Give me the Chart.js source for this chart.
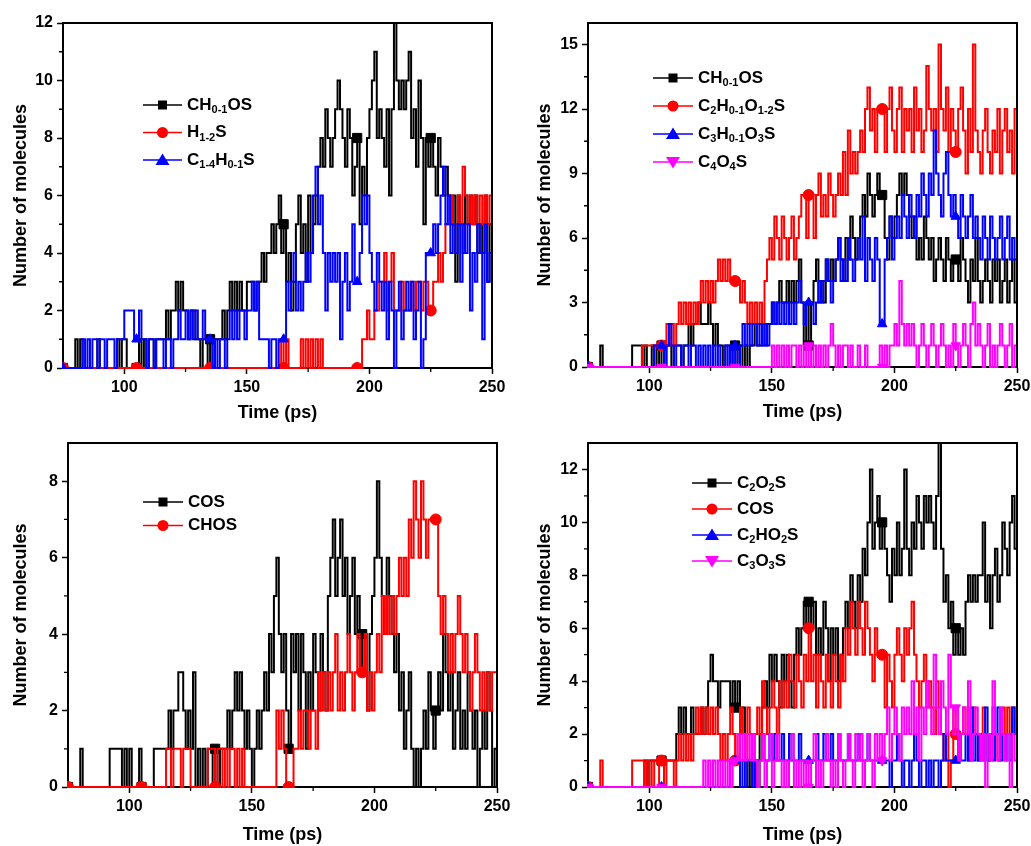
<!DOCTYPE html>
<html>
<head>
<meta charset="utf-8">
<script src="https://cdn.jsdelivr.net/npm/chart.js@4.4.1/dist/chart.umd.min.js"></script>
<style>
  html, body { margin: 0; padding: 0; background: #ffffff; }
  body { width: 1031px; height: 846px; position: relative; overflow: hidden; }
  canvas { position: absolute; }
</style>
</head>
<body>
<canvas id="c1"></canvas>
<canvas id="c2"></canvas>
<canvas id="c3"></canvas>
<canvas id="c4"></canvas>
<script>
// Sampling times (ps), one value per picosecond
const timeStart = 75, timeEnd = 250;
const times = Array.from({ length: timeEnd - timeStart + 1 }, (_, i) => timeStart + i);
const markerTimes = [75, 105, 135, 165, 195, 225];
const xTicks = [100, 150, 200, 250];
const xMinorTicks = [125, 175, 225];

// Panel (a) tick values
const p1YTicks = [0, 2, 4, 6, 8, 10, 12];
const p1YMinor = [1, 3, 5, 7, 9, 11];
// Panel (b)
const p2YTicks = [0, 3, 6, 9, 12, 15];
const p2YMinor = [1.5, 4.5, 7.5, 10.5, 13.5];
// Panel (c)
const p3YTicks = [0, 2, 4, 6, 8];
const p3YMinor = [1, 3, 5, 7];
// Panel (d)
const p4YTicks = [0, 2, 4, 6, 8, 10, 12];
const p4YMinor = [1, 3, 5, 7, 9, 11];

// ---- Panel (a) series ----
const p1CH01OS = [
  0,0,0,0,0,1,0,1,0,0,  0,0,0,0,1,0,0,0,0,0,  0,0,1,0,1,1,0,0,0,0,
  0,1,0,1,0,1,1,0,1,1,  1,1,2,1,2,2,3,2,3,2,  2,1,2,2,1,1,0,1,1,0,
  1,0,1,1,1,2,1,2,3,2,  3,2,3,2,2,3,3,3,2,3,  3,4,3,4,4,5,4,5,6,4,
  5,3,4,2,3,5,6,4,5,3,  6,4,5,6,7,8,7,9,8,7,  8,9,10,9,8,7,9,8,6,7,
  8,5,7,6,8,9,10,11,8,9,  8,7,9,6,9,12,10,9,10,9,  10,11,8,9,7,10,8,5,8,7,
  8,7,6,8,7,6,7,6,5,6,  3,6,5,4,6,5,6,5,6,4,  5,4,6,3,5,4
];
const p1H12S = [
  0,0,0,0,0,0,0,0,0,0,  0,0,0,0,0,0,0,0,0,0,  0,0,0,0,0,0,0,0,0,0,
  0,0,0,0,0,0,0,0,0,0,  0,0,0,0,0,0,0,0,0,0,  0,0,0,0,0,0,0,0,0,0,
  0,0,0,0,0,0,0,0,0,0,  0,0,0,0,0,0,0,0,0,0,  0,0,0,0,0,0,0,0,0,1,
  0,1,0,0,0,0,0,1,0,1,  0,1,0,1,0,1,0,0,0,0,  0,0,0,0,0,0,0,0,0,0,
  0,0,1,1,2,1,1,2,2,3,  3,4,2,3,4,2,2,2,3,2,  2,2,3,2,3,3,2,3,3,2,
  2,3,3,4,3,4,5,5,6,5,  5,6,5,7,6,5,6,5,6,5,  6,5,6,5,6,6
];
const p1C14H01S = [
  0,0,0,0,0,0,0,0,1,0,  1,0,1,1,0,1,1,0,1,1,  1,0,1,1,1,2,2,2,2,1,
  1,2,1,1,0,1,1,0,1,1,  1,0,1,1,0,1,1,2,1,1,  2,1,2,1,2,1,1,2,1,1,
  1,0,1,0,1,1,0,1,2,1,  2,1,2,2,1,2,2,3,2,3,  1,1,1,1,0,1,1,0,1,1,
  1,3,2,3,4,2,3,2,3,4,  3,4,6,7,5,6,4,2,4,3,  4,3,4,1,3,4,2,3,5,3,
  3,4,6,5,6,4,3,2,4,3,  2,3,1,3,2,0,2,3,1,2,  3,2,3,1,2,3,0,1,4,4,
  4,5,4,5,6,7,5,6,4,5,  4,5,3,5,4,5,2,4,3,5,  4,1,5,3,4,3
];

// ---- Panel (b) series ----
const p2CH01OS = [
  0,0,0,0,0,1,0,0,0,0,  0,0,0,0,0,0,0,0,1,1,  1,1,0,1,0,0,1,0,1,0,
  1,0,1,1,0,1,1,1,0,1,  1,2,1,2,2,3,2,2,2,3,  2,1,2,1,1,0,1,1,0,1,
  1,0,1,0,1,0,1,1,2,1,  1,2,1,2,2,3,2,3,4,3,  3,4,3,4,3,4,5,3,1,3,
  1,3,4,5,3,4,3,5,4,5,  4,5,6,5,4,6,5,7,6,5,  6,7,8,7,9,8,7,8,9,8,
  8,6,5,7,6,7,8,9,8,9,  8,7,6,7,5,6,5,7,6,5,  6,4,5,6,5,4,6,5,4,5,
  5,4,6,5,4,3,5,4,6,4,  3,4,5,4,3,5,4,5,3,4,  5,3,4,5,3,2
];
const p2C2H01O12S = [
  0,0,0,0,0,0,0,0,0,0,  0,0,0,0,0,0,0,0,0,0,  0,0,1,1,1,1,1,1,1,1,
  1,1,2,1,2,1,2,3,2,3,  2,3,2,3,2,3,4,3,4,3,  4,3,4,5,4,5,4,5,4,4,
  4,4,3,4,3,2,3,2,3,2,  3,2,4,5,6,5,7,6,5,7,  6,5,6,7,5,6,7,8,8,6,
  8,8,6,8,9,7,8,7,9,8,  7,8,9,8,10,8,11,9,10,9,  10,11,10,12,13,11,12,10,12,12,
  12,10,12,13,11,10,12,13,10,12,  11,12,10,13,11,12,10,11,14,12,  11,12,10,15,12,11,13,10,12,11,
  10,12,13,11,9,12,10,15,11,10,  9,11,12,10,9,11,10,12,9,11,  12,10,11,9,12,10
];
const p2C3H01O3S = [
  0,0,0,0,0,0,0,0,0,0,  0,0,0,0,0,0,0,0,0,0,  0,0,0,0,0,0,0,1,1,1,
  1,0,1,2,1,0,1,1,0,1,  1,0,1,1,0,1,0,1,0,1,  0,1,0,1,0,0,1,0,1,0,
  1,0,1,2,1,2,1,2,2,1,  2,1,2,1,2,3,2,3,2,3,  2,3,2,3,2,3,4,3,2,3,
  3,3,2,3,4,3,4,5,4,3,  4,5,6,4,5,4,6,5,4,5,  6,5,7,4,6,5,4,6,5,2,
  2,5,6,7,5,6,7,6,8,7,  6,8,7,6,8,7,9,8,7,9,  8,11,9,8,7,9,10,8,7,8,
  7,6,8,7,6,7,8,6,7,6,  5,7,6,5,7,6,5,6,7,5,  6,7,5,6,5,2
];
const p2C4O4S = [
  0,0,0,0,0,0,0,0,0,0,  0,0,0,0,0,0,0,0,0,0,  0,0,0,0,0,0,0,0,0,0,
  0,0,0,0,0,0,0,0,0,0,  0,0,0,0,0,0,0,0,0,0,  0,0,0,0,0,0,0,0,0,0,
  0,0,0,0,0,0,0,0,0,0,  0,0,0,0,0,1,0,1,0,1,  0,1,0,1,1,0,1,0,1,0,
  1,0,1,0,1,0,1,0,1,2,  1,0,1,0,1,1,0,1,0,0,  1,0,0,1,0,0,0,0,0,1,
  0,1,0,1,1,2,1,4,2,1,  2,1,2,1,0,1,2,1,0,1,  2,1,0,1,2,1,0,1,0,2,
  1,0,1,2,1,0,2,3,1,2,  1,0,1,2,0,1,0,1,2,1,  0,1,2,0,1,1
];

// ---- Panel (c) series ----
const p3COS = [
  0,0,0,0,0,1,0,0,0,0,  0,0,0,0,0,0,0,1,1,1,  1,1,0,1,0,1,0,0,0,1,
  0,0,0,0,0,1,1,1,1,1,  1,2,1,2,2,3,3,2,1,2,  1,3,0,1,0,1,0,1,1,0,
  1,0,1,1,1,2,1,2,3,2,  3,2,1,2,1,0,1,2,1,2,  3,2,4,3,5,6,4,3,4,2,
  1,4,3,4,2,4,3,1,3,2,  4,3,2,4,3,2,5,6,7,5,  6,7,5,6,4,5,6,4,5,3,
  4,3,2,4,5,6,8,6,5,4,  6,5,4,3,4,2,3,1,2,3,  1,0,1,0,1,2,1,3,2,1,
  2,3,2,4,3,2,3,1,2,3,  1,2,1,3,2,1,2,0,1,2,  1,3,2,0,1,2
];
const p3CHOS = [
  0,0,0,0,0,0,0,0,0,0,  0,0,0,0,0,0,0,0,0,0,  0,0,0,0,0,0,0,0,0,0,
  0,0,0,0,0,0,0,0,0,0,  1,1,0,1,1,1,0,1,1,1,  0,0,0,0,0,0,0,1,1,1,
  0,1,1,0,1,0,1,1,0,1,  0,1,0,0,0,0,0,0,0,0,  0,0,0,0,0,2,1,2,1,0,
  0,0,1,1,2,1,2,2,1,2,  2,1,3,2,3,2,3,2,3,4,  2,3,2,3,4,3,2,3,4,3,
  3,4,2,3,2,3,4,3,5,4,  5,4,5,4,5,6,5,6,5,7,  6,8,7,6,8,7,6,7,7,7,
  7,5,4,5,4,3,4,3,4,5,  4,3,4,3,2,3,4,3,2,3,  2,3,2,3,3,3
];

// ---- Panel (d) series ----
const p4C2O2S = [
  0,0,0,0,0,0,0,0,0,0,  0,0,0,0,0,0,0,0,0,0,  0,0,0,1,0,1,1,1,1,1,
  1,1,1,1,1,1,2,3,2,3,  2,2,3,2,2,2,3,2,3,4,  5,4,4,3,4,4,4,4,3,4,
  3,4,2,3,1,0,1,0,1,0,  2,3,4,3,5,4,5,4,3,5,  4,5,4,3,5,6,5,6,7,6,
  7,6,7,5,6,5,7,6,4,6,  5,6,4,5,6,7,6,8,7,6,  8,7,9,8,10,12,9,10,11,9,
  10,9,8,7,9,8,10,8,9,12,  9,8,10,9,11,10,9,11,10,11,  10,9,11,13,9,7,8,6,7,5,
  6,5,6,5,7,8,7,8,7,8,  8,10,7,8,6,8,9,7,8,10,  9,8,10,11,9,8
];
const p4COS = [
  0,0,0,0,0,1,0,0,0,0,  0,0,0,0,0,0,0,0,1,1,  1,1,1,0,1,0,1,0,0,1,
  1,0,1,1,1,0,1,2,1,2,  1,2,1,2,3,2,3,2,3,2,  3,2,3,2,1,2,1,2,3,2,
  1,2,3,2,1,3,2,1,2,3,  2,4,3,2,3,4,3,2,4,3,  4,3,5,4,3,5,4,3,5,4,
  6,4,5,3,5,4,3,5,4,3,  5,4,3,5,4,6,5,7,6,5,  7,6,5,7,6,5,4,6,5,5,
  5,3,5,4,3,5,6,5,4,6,  5,6,7,5,4,3,4,5,3,4,  3,2,4,3,2,1,2,0,1,3,
  2,1,2,3,2,1,2,3,2,1,  2,3,2,1,2,3,2,1,2,3,  2,3,2,3,2,2
];
const p4C2HO2S = [
  0,0,0,0,0,0,0,0,0,0,  0,0,0,0,0,0,0,0,0,0,  0,0,0,0,0,0,0,0,0,0,
  0,0,0,0,0,0,0,0,0,0,  0,0,0,0,0,0,0,0,0,0,  0,0,0,0,0,0,0,0,1,1,
  1,1,0,1,0,1,1,0,1,1,  1,2,1,1,2,1,2,1,1,2,  1,1,2,1,1,1,2,1,1,1,
  1,1,1,2,1,1,2,1,1,2,  1,1,2,1,1,1,2,1,1,1,  2,1,1,1,2,1,1,1,1,1,
  1,1,1,0,1,1,2,1,0,1,  1,0,1,2,1,0,1,1,0,1,  0,1,1,0,1,2,1,1,1,1,
  1,2,1,1,2,1,3,1,2,1,  2,1,3,1,2,1,2,3,1,2,  1,2,1,3,2,2
];
const p4C3O3S = [
  0,0,0,0,0,0,0,0,0,0,  0,0,0,0,0,0,0,0,0,0,  0,0,0,0,0,0,0,0,0,0,
  0,0,0,0,0,0,0,0,0,0,  0,0,0,0,0,0,0,1,0,1,  0,1,0,1,0,1,0,1,0,1,
  1,2,1,2,1,2,1,2,1,0,  1,2,0,1,2,0,1,2,1,0,  1,0,1,2,0,1,0,1,0,1,
  0,1,2,0,1,0,1,2,1,0,  1,0,2,1,0,1,2,1,0,2,  1,2,0,1,2,1,0,2,1,2,
  1,2,3,1,2,3,2,1,3,2,  3,2,4,2,3,1,3,2,4,3,  2,5,3,2,4,3,2,5,3,2,
  3,1,2,3,2,4,1,2,3,2,  1,2,0,2,1,4,2,1,3,2,  1,2,0,2,1,2
];

const FONT = "'Liberation Sans', Arial, Helvetica, sans-serif";
Chart.defaults.font.family = FONT;
Chart.defaults.color = '#000';

const BLACK = '#000000', RED = '#ff0000', BLUE = '#0000ff', MAGENTA = '#ff00ff';
const AXIS_W = 2;

const panels = [
  {
    id: 'c1', box: { left: 0, top: 0, w: 515, h: 432 }, area: { l: 63, t: 23, r: 492, b: 368 },
    yMax: 12, yTicks: p1YTicks, yMinor: p1YMinor, xTitleGap: 45, yTitleX: 21,
    legend: { x: 143, y: 105, dy: 27.5, len: 39 },
    series: [
      { label: 'CH_{0-1}OS', values: p1CH01OS, color: BLACK, marker: 'rect' },
      { label: 'H_{1-2}S', values: p1H12S, color: RED, marker: 'circle' },
      { label: 'C_{1-4}H_{0-1}S', values: p1C14H01S, color: BLUE, marker: 'triangle' }
    ]
  },
  {
    id: 'c2', box: { left: 515, top: 0, w: 540, h: 432 }, area: { l: 73, t: 23, r: 502, b: 367 },
    yMax: 16, yTicks: p2YTicks, yMinor: p2YMinor, xTitleGap: 45, yTitleX: 30,
    legend: { x: 138, y: 78, dy: 28, len: 40 },
    series: [
      { label: 'CH_{0-1}OS', values: p2CH01OS, color: BLACK, marker: 'rect' },
      { label: 'C_{2}H_{0-1}O_{1-2}S', values: p2C2H01O12S, color: RED, marker: 'circle' },
      { label: 'C_{3}H_{0-1}O_{3}S', values: p2C3H01O3S, color: BLUE, marker: 'triangle' },
      { label: 'C_{4}O_{4}S', values: p2C4O4S, color: MAGENTA, marker: 'triangleDown' }
    ]
  },
  {
    id: 'c3', box: { left: 0, top: 420, w: 515, h: 426 }, area: { l: 68, t: 23, r: 497, b: 367 },
    yMax: 9, yTicks: p3YTicks, yMinor: p3YMinor, xTitleGap: 48, yTitleX: 21,
    legend: { x: 143, y: 82, dy: 23.5, len: 40 },
    series: [
      { label: 'COS', values: p3COS, color: BLACK, marker: 'rect' },
      { label: 'CHOS', values: p3CHOS, color: RED, marker: 'circle' }
    ]
  },
  {
    id: 'c4', box: { left: 515, top: 420, w: 540, h: 426 }, area: { l: 73, t: 23, r: 502, b: 367 },
    yMax: 13, yTicks: p4YTicks, yMinor: p4YMinor, xTitleGap: 48, yTitleX: 30,
    legend: { x: 177, y: 63, dy: 26, len: 40 },
    series: [
      { label: 'C_{2}O_{2}S', values: p4C2O2S, color: BLACK, marker: 'rect' },
      { label: 'COS', values: p4COS, color: RED, marker: 'circle' },
      { label: 'C_{2}HO_{2}S', values: p4C2HO2S, color: BLUE, marker: 'triangle' },
      { label: 'C_{3}O_{3}S', values: p4C3O3S, color: MAGENTA, marker: 'triangleDown' }
    ]
  }
];

// Draws text where _{...} marks a subscript run
function drawRichText(ctx, text, x, y, size) {
  const parts = text.split(/(_\{[^}]*\})/).filter(Boolean);
  let cx = x;
  ctx.textBaseline = 'middle';
  ctx.textAlign = 'left';
  for (const p of parts) {
    const sub = p.startsWith('_{');
    const t = sub ? p.slice(2, -1) : p;
    const fs = sub ? Math.round(size * 0.66) : size;
    ctx.font = `bold ${fs}px ${FONT}`;
    ctx.fillText(t, cx, sub ? y + size * 0.32 : y);
    cx += ctx.measureText(t).width;
  }
}

function drawLegendMarker(ctx, style, x, y, color) {
  ctx.fillStyle = color;
  ctx.beginPath();
  if (style === 'rect') {
    ctx.rect(x - 4.5, y - 4.5, 9, 9);
  } else if (style === 'circle') {
    ctx.arc(x, y, 5.5, 0, Math.PI * 2);
  } else if (style === 'triangle') {
    ctx.moveTo(x, y - 6.5); ctx.lineTo(x + 7, y + 5); ctx.lineTo(x - 7, y + 5); ctx.closePath();
  } else {
    ctx.moveTo(x, y + 6.5); ctx.lineTo(x + 7, y - 5); ctx.lineTo(x - 7, y - 5); ctx.closePath();
  }
  ctx.fill();
}

function makeChart(p) {
  const canvas = document.getElementById(p.id);
  canvas.width = p.box.w;
  canvas.height = p.box.h;
  canvas.style.left = p.box.left + 'px';
  canvas.style.top = p.box.top + 'px';
  const a = p.area;
  const xScaleH = p.box.h - a.b;
  const titleHalf = 18 * 1.2 / 2;

  const framePlugin = {
    id: 'frame_' + p.id,
    afterDraw(chart) {
      const ctx = chart.ctx;
      const ca = chart.chartArea;
      const xs = chart.scales.x, ys = chart.scales.y;
      ctx.save();
      ctx.strokeStyle = '#000';
      ctx.lineWidth = AXIS_W;
      // top and right edges of the frame
      ctx.beginPath();
      ctx.moveTo(ca.left, ca.top);
      ctx.lineTo(ca.right, ca.top);
      ctx.lineTo(ca.right, ca.bottom);
      ctx.stroke();
      // minor ticks
      ctx.lineWidth = 1.3;
      ctx.beginPath();
      for (const v of xMinorTicks) {
        const px = xs.getPixelForValue(v);
        ctx.moveTo(px, ca.bottom); ctx.lineTo(px, ca.bottom + 4);
      }
      for (const v of p.yMinor) {
        const py = ys.getPixelForValue(v);
        ctx.moveTo(ca.left, py); ctx.lineTo(ca.left - 4, py);
      }
      ctx.stroke();
      // legend
      const lg = p.legend;
      p.series.forEach((s, i) => {
        const y = lg.y + i * lg.dy;
        ctx.strokeStyle = s.color;
        ctx.lineWidth = 1.5;
        ctx.beginPath();
        ctx.moveTo(lg.x, y); ctx.lineTo(lg.x + lg.len, y);
        ctx.stroke();
        drawLegendMarker(ctx, s.marker, lg.x + lg.len / 2, y, s.color);
        ctx.fillStyle = '#000';
        drawRichText(ctx, s.label, lg.x + lg.len + 5, y, 17);
      });
      ctx.restore();
    }
  };

  return new Chart(canvas, {
    type: 'line',
    data: {
      datasets: p.series.map((s, i) => ({
        label: s.label.replace(/_\{([^}]*)\}/g, '$1'),
        data: times.map((t, k) => ({ x: t, y: s.values[k] })),
        borderColor: s.color,
        backgroundColor: s.color,
        borderWidth: 2,
        stepped: true,
        fill: false,
        clip: 1,
        pointStyle: s.marker === 'triangleDown' ? 'triangle' : s.marker,
        pointRotation: s.marker === 'triangleDown' ? 180 : 0,
        pointRadius: c => markerTimes.includes(times[c.dataIndex]) ? (s.marker === 'rect' ? 6.5 : 5.5) : 0,
        pointHoverRadius: 0,
        pointBorderColor: s.color,
        pointBackgroundColor: s.color,
        pointBorderWidth: 1,
        order: p.series.length - i
      }))
    },
    options: {
      responsive: false,
      maintainAspectRatio: false,
      animation: false,
      devicePixelRatio: 1,
      events: [],
      layout: { padding: { left: 0, top: a.t, right: p.box.w - a.r, bottom: 0 } },
      plugins: { legend: { display: false }, tooltip: { enabled: false } },
      scales: {
        x: {
          type: 'linear', min: timeStart, max: timeEnd,
          afterBuildTicks: sc => { sc.ticks = xTicks.map(v => ({ value: v })); },
          afterFit: sc => { sc.height = xScaleH; },
          grid: { drawOnChartArea: false, drawTicks: true, tickLength: 6, tickColor: '#000', tickWidth: 1.5 },
          border: { display: true, color: '#000', width: AXIS_W },
          ticks: { color: '#000', font: { size: 16, weight: 'bold' }, padding: 4, maxRotation: 0, autoSkip: false },
          title: {
            display: true, text: 'Time (ps)', color: '#000',
            font: { size: 18, weight: 'bold' },
            padding: { top: 0, bottom: xScaleH - p.xTitleGap - titleHalf }
          }
        },
        y: {
          type: 'linear', min: 0, max: p.yMax,
          afterBuildTicks: sc => { sc.ticks = p.yTicks.map(v => ({ value: v })); },
          afterFit: sc => { sc.width = a.l; },
          grid: { drawOnChartArea: false, drawTicks: true, tickLength: 6, tickColor: '#000', tickWidth: 1.5 },
          border: { display: true, color: '#000', width: AXIS_W },
          ticks: { color: '#000', font: { size: 16, weight: 'bold' }, padding: 4, autoSkip: false },
          title: {
            display: true, text: 'Number of molecules', color: '#000',
            font: { size: 18, weight: 'bold' },
            padding: { top: p.yTitleX - titleHalf, bottom: 0 }
          }
        }
      }
    },
    plugins: [framePlugin]
  });
}

panels.forEach(makeChart);
</script>
</body>
</html>
